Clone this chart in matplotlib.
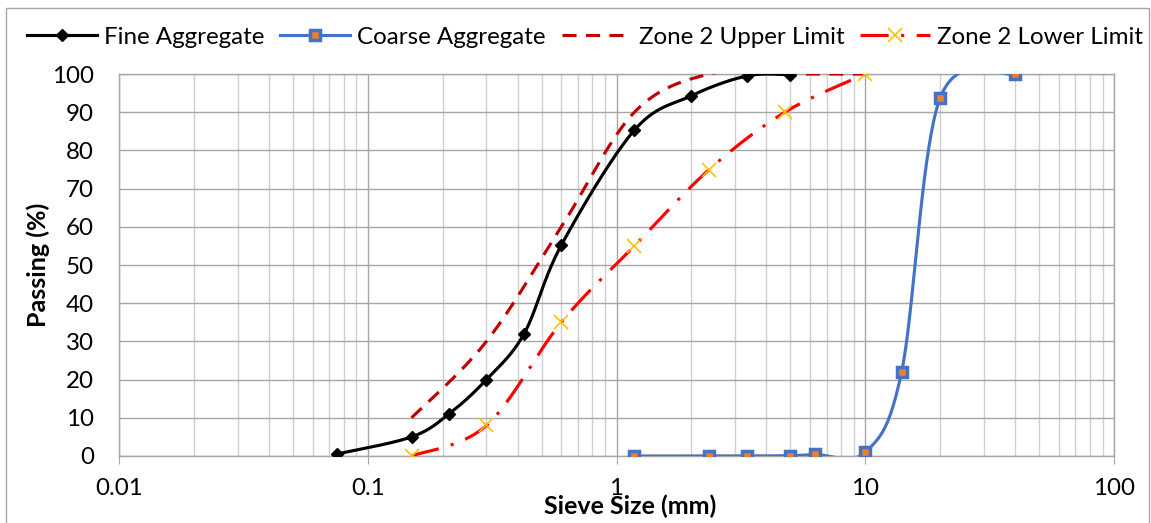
import numpy as np
import matplotlib
matplotlib.use('Agg')
import matplotlib.pyplot as plt
from matplotlib.ticker import LogLocator, FixedLocator, NullFormatter
from matplotlib.patches import Rectangle

plt.rcParams['font.family'] = ['Lato', 'DejaVu Sans']

# sieve sizes (mm) and percent passing
fine_size = [0.075, 0.15, 0.212, 0.3, 0.425, 0.6, 1.18, 2.0, 3.35, 5.0]
fine_pass = [0.5, 5.0, 11.0, 20.0, 32.0, 55.2, 85.3, 94.3, 99.5, 99.8]

coarse_size = [1.18, 2.36, 3.35, 5.0, 6.3, 10.0, 14.0, 20.0, 40.0]
coarse_pass = [0.0, 0.0, 0.0, 0.1, 0.4, 1.0, 22.0, 93.7, 100.0]

upper_size = [0.15, 0.3, 0.6, 1.18, 2.36, 4.75, 10.0]
upper_pass = [10, 30, 60, 90, 100, 100, 100]

lower_size = [0.15, 0.3, 0.6, 1.18, 2.36, 4.75, 10.0]
lower_pass = [0, 8, 35, 55, 75, 90, 100]

XMIN, XMAX, YMIN, YMAX = 0.01, 100, 0, 100
FS = 17.4


def smooth(xs, ys, n=40):
    # Excel style smoothed line (Catmull-Rom bezier) done in screen-like space
    u = np.log10(np.asarray(xs, float)) * 249.0
    v = np.asarray(ys, float) * 3.82
    pts = np.column_stack([u, v])
    ext = np.vstack([pts[0], pts, pts[-1]])
    out = []
    for i in range(1, len(ext) - 2):
        p0, p1, p2, p3 = ext[i - 1], ext[i], ext[i + 1], ext[i + 2]
        c1 = p1 + (p2 - p0) / 6.0
        c2 = p2 - (p3 - p1) / 6.0
        t = np.linspace(0, 1, n)[:, None]
        seg = ((1 - t) ** 3 * p1 + 3 * (1 - t) ** 2 * t * c1
               + 3 * (1 - t) * t ** 2 * c2 + t ** 3 * p2)
        out.append(seg if i == 1 else seg[1:])
    out = np.vstack(out)
    return 10 ** (out[:, 0] / 249.0), out[:, 1] / 3.82


fig = plt.figure(figsize=(11.51, 5.23), dpi=100)
ax = fig.add_axes([119 / 1151, 67 / 523, 995 / 1151, 382 / 523])

fig.patches.append(Rectangle((6 / 1151, -0.1), 1143 / 1151, 1.1 - 8 / 523,
                             transform=fig.transFigure, fill=False,
                             edgecolor='#A6A6A6', linewidth=1.0))

ax.set_xscale('log')
ax.set_xlim(XMIN, XMAX)
ax.set_ylim(YMIN, YMAX)

lw = 2.25
up_ls = (0, (4.5, 3))
lo_ls = (0, (9, 4, 1, 4))

sx, sy = smooth(fine_size, fine_pass)
ax.plot(sx, sy, color='black', lw=lw, zorder=4)
ax.plot(fine_size, fine_pass, 'D', color='black', ms=6.5, zorder=5)

sx, sy = smooth(coarse_size, coarse_pass)
ax.plot(sx, sy, color='#4472C4', lw=lw, zorder=4)
ax.plot(coarse_size, coarse_pass, 's', mfc='#ED7D31', mec='#4472C4', mew=2.5,
        ms=7, zorder=5)

sx, sy = smooth(upper_size, upper_pass)
ax.plot(sx, sy, color='#C00000', lw=lw, ls=up_ls, zorder=3)

sx, sy = smooth(lower_size, lower_pass)
ax.plot(sx, sy, color='#FF0000', lw=lw, ls=lo_ls, zorder=3)
ax.plot(lower_size, lower_pass, 'x', color='#FFC000', ms=10, mew=1.2, zorder=5)

# legend proxies
h1, = ax.plot([], [], color='black', lw=lw, marker='D', ms=6.5)
h2, = ax.plot([], [], color='#4472C4', lw=lw, marker='s', mfc='#ED7D31',
              mec='#4472C4', mew=2.5, ms=7)
h3, = ax.plot([], [], color='#C00000', lw=lw, ls=up_ls)
h4, = ax.plot([], [], color='#FF0000', lw=lw, ls=lo_ls,
              marker='x', mec='#FFC000', ms=10, mew=1.2)
fig.legend([h1, h2, h3, h4],
           ['Fine Aggregate', 'Coarse Aggregate', 'Zone 2 Upper Limit',
            'Zone 2 Lower Limit'],
           loc='center', bbox_to_anchor=(585 / 1151, 1 - 37 / 523), ncol=4,
           frameon=False, fontsize=FS, handlelength=2.9, handletextpad=0.29,
           columnspacing=0.66, borderaxespad=0)

ax.set_xticks([0.01, 0.1, 1, 10, 100])
ax.set_xticklabels(['0.01', '0.1', '1', '10', '100'])
ax.xaxis.set_minor_locator(LogLocator(base=10, subs=np.arange(2, 10), numticks=20))
ax.xaxis.set_minor_formatter(NullFormatter())
ax.yaxis.set_major_locator(FixedLocator(np.arange(0, 101, 10)))

ax.grid(which='major', axis='both', color='#A6A6A6', lw=1.0)
ax.grid(which='minor', axis='x', color='#D0D0D0', lw=1.0)
ax.set_axisbelow(True)
for s in ax.spines.values():
    s.set_color('#A6A6A6')
    s.set_linewidth(1.0)

ax.tick_params(axis='x', which='major', direction='out', length=6,
               color='#A6A6A6', labelsize=FS, pad=10)
ax.tick_params(axis='x', which='minor', length=0)
ax.tick_params(axis='y', length=0, labelsize=FS, pad=18)

ax.set_xlabel('Sieve Size (mm)', fontsize=18, fontweight='bold')
ax.set_ylabel('Passing (%)', fontsize=18, fontweight='bold')
ax.xaxis.set_label_coords(0.5136, -0.1)
ax.yaxis.set_label_coords(-0.0693, 0.5)

fig.savefig('out.png', dpi=100)
